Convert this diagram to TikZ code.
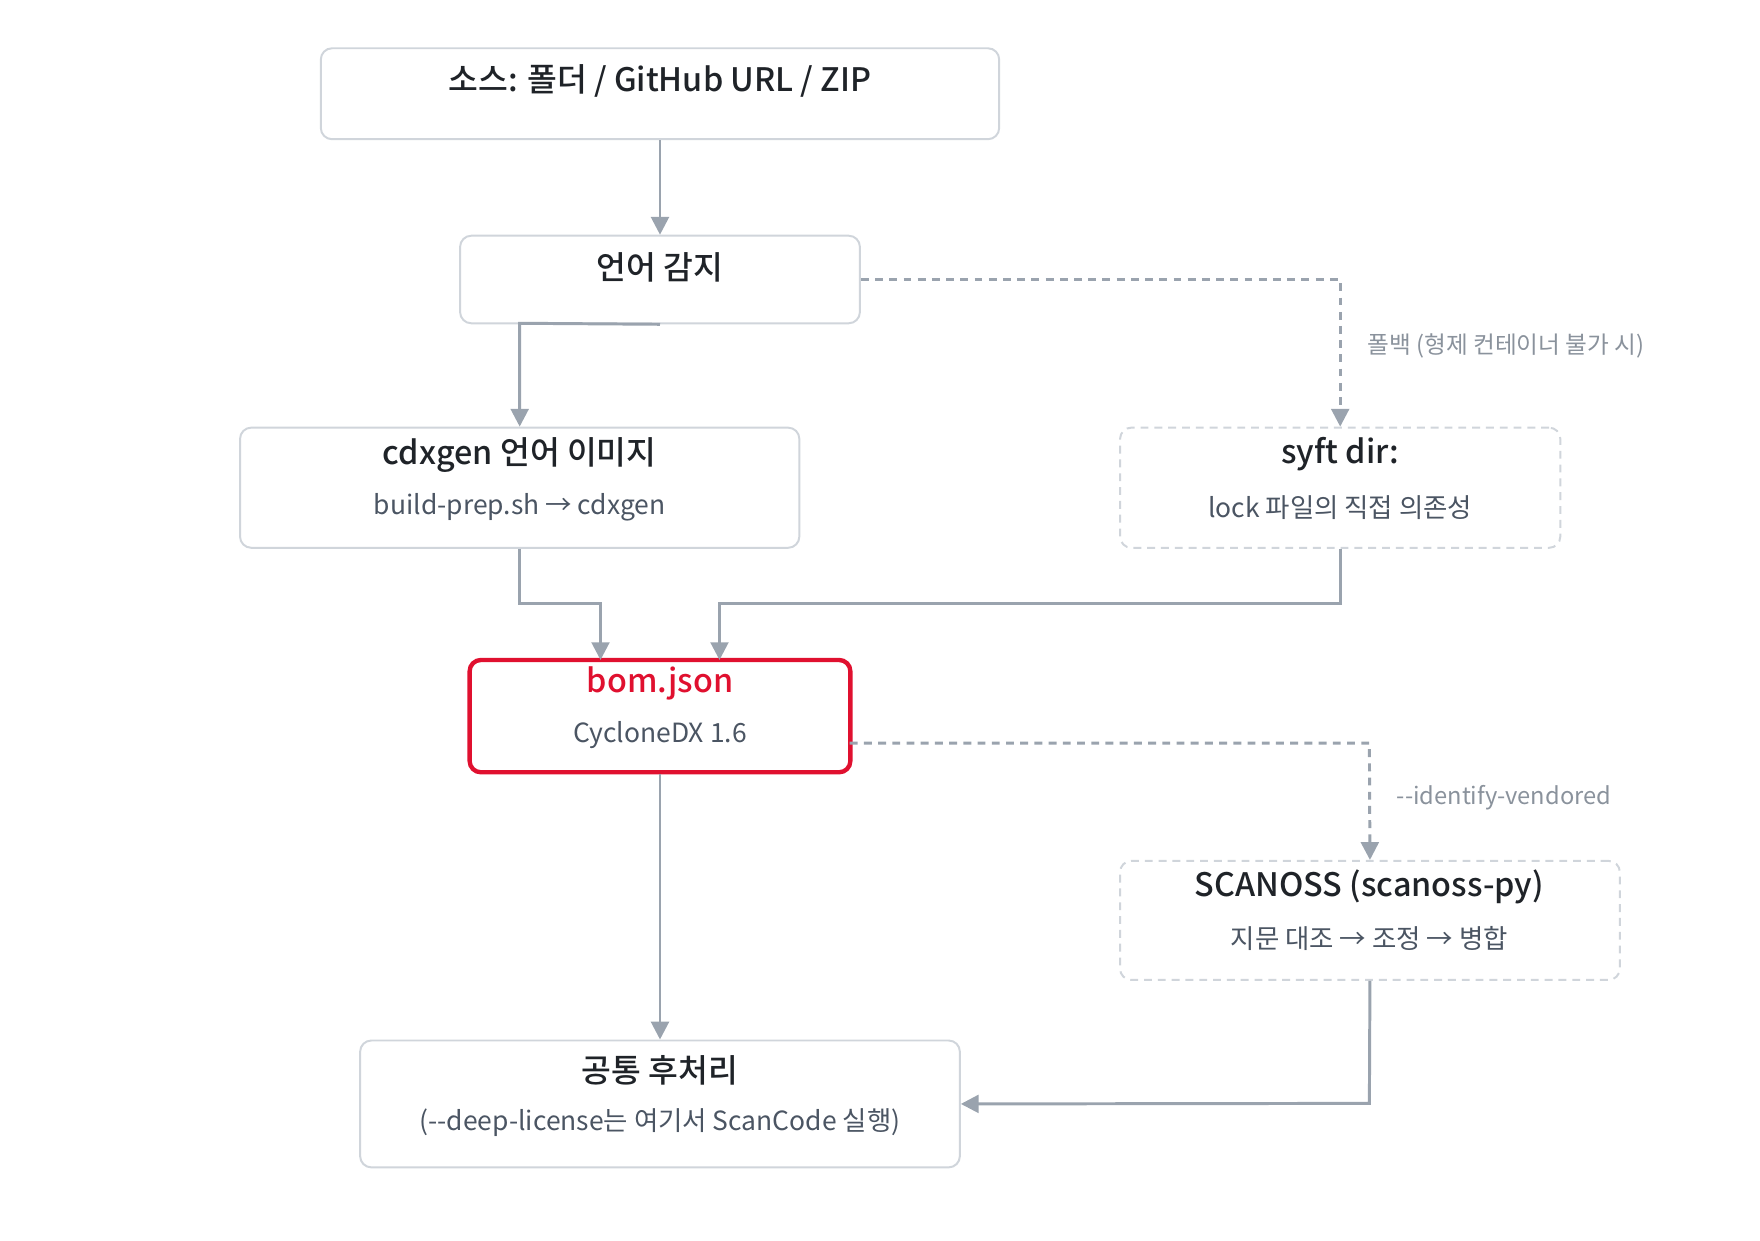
\documentclass[tikz,border=0pt]{standalone}
\usepackage{fontspec}
\setmainfont{Noto Sans CJK KR}[BoldFont={Noto Sans CJK KR Medium}]
\usetikzlibrary{arrows.meta,calc}
\definecolor{edgegray}{HTML}{9AA3AE}
\definecolor{boxline}{HTML}{D0D5DB}
\definecolor{bomred}{HTML}{E0102F}
\definecolor{titletext}{HTML}{1F2328}
\definecolor{subtext}{HTML}{4B5563}
\definecolor{notetext}{HTML}{8A929C}
\tikzset{
  box/.style={draw=boxline,line width=0.5pt,rounded corners=0.1cm,fill=white},
  optbox/.style={box,dashed,dash pattern=on 2pt off 1.5pt},
  title/.style={font=\fontsize{8.2}{10}\selectfont\bfseries,text=titletext,anchor=center},
  sub/.style={font=\fontsize{6.7}{9}\selectfont,text=subtext,anchor=center},
  note/.style={font=\fontsize{6.0}{8}\selectfont,text=notetext,anchor=west},
  flow/.style={draw=edgegray,line width=0.75pt,-{Triangle[length=4.5pt,width=4.5pt]}},
  fallback/.style={flow,dashed,dash pattern=on 2pt off 1.6pt}
}
\begin{document}
\begin{tikzpicture}[x=0.01cm,y=-0.01cm]
        \useasboundingbox (0,0) rectangle (1568,1105);
        % Boxes
        \node[box,minimum width=6.04cm,minimum height=0.81cm] (src) at (588,83.5) {};
        \node[box,minimum width=3.56cm,minimum height=0.78cm] (detect) at (588,249) {};
        \node[box,minimum width=4.98cm,minimum height=1.07cm] (cdx) at (463,434.5) {};
        \node[optbox,minimum width=3.92cm,minimum height=1.07cm] (syft) at (1194,434.5) {};
        \node[box,draw=bomred,line width=1.1pt,minimum width=3.39cm,minimum height=1.0cm] (bom) at (588,638) {};
        \node[optbox,minimum width=4.45cm,minimum height=1.06cm] (scan) at (1220.5,820) {};
        \node[box,minimum width=5.34cm,minimum height=1.13cm] (post) at (588,983.5) {};
        % Texts
        \node[title] (srcT) at (588,72) {소스: 폴더 / GitHub URL / ZIP};
        \node[title] (detectT) at (588,238) {언어 감지};
        \node[title] (cdxT) at (463,405) {cdxgen 언어 이미지};
        \node[sub] (cdxS) at (463,452) {build-prep.sh → cdxgen};
        \node[title] (syftT) at (1194,405) {syft dir:};
        \node[sub] (syftS) at (1194,452) {lock 파일의 직접 의존성};
        \node[title,text=bomred] (bomT) at (588,609) {bom.json};
        \node[sub] (bomS) at (588,655) {CycloneDX 1.6};
        \node[title] (scanT) at (1220,790) {SCANOSS (scanoss-py)};
        \node[sub] (scanS) at (1220,836) {지문 대조 → 조정 → 병합};
        \node[title] (postT) at (588,954) {공통 후처리};
        \node[sub] (postS) at (588,1000) {({-}{-}deep-license는 여기서 ScanCode 실행)};
        % Connectors
        \draw[flow] (src.south) -- (detect.north);
        \draw[flow] (detect.south) -- (463,288) -- (cdx.north);
        \draw[fallback] (detect.east) -- (1194,249) -- (syft.north);
        \node[note] (fbN) at (1206,308) {폴백 (형제 컨테이너 불가 시)};
        \draw[flow] (cdx.south) -- (463,538) -- (535,538) -- (535,588);
        \draw[flow] (syft.south) -- (1194,538) -- (641,538) -- (641,588);
        \draw[fallback] (757,662) -- (1220,662) -- (scan.north);
        \node[note] (venN) at (1232,711) {{-}{-}identify-vendored};
        \draw[flow] (bom.south) -- (post.north);
        \draw[flow] (scan.south) -- (1220,983) -- (post.east);
\end{tikzpicture}
\end{document}
